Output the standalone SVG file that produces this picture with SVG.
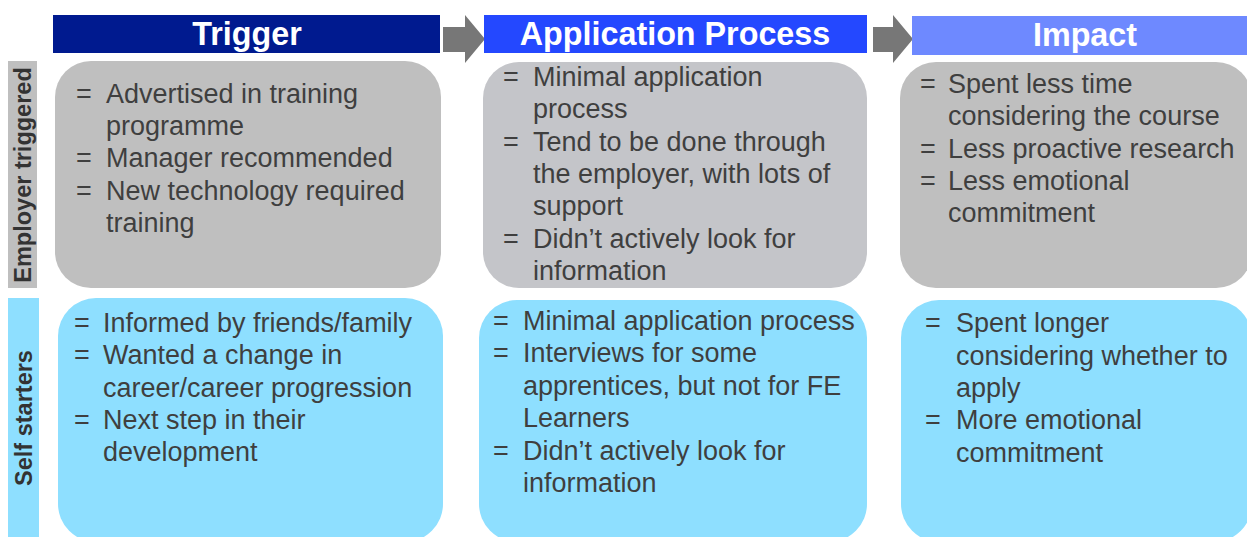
<svg xmlns="http://www.w3.org/2000/svg" width="1247" height="537" viewBox="0 0 1247 537">
<style>
.hdr{font-family:"Liberation Sans",Arial,sans-serif;font-weight:bold;font-size:32.3px;fill:#ffffff;text-anchor:middle}
.side{font-family:"Liberation Sans",Arial,sans-serif;font-weight:bold;font-size:23.5px;fill:#333333;text-anchor:middle}
.t{font-family:"Liberation Sans",Arial,sans-serif;font-size:27px;fill:#3f3f3f}
.gray{fill:#bfbfbf}
.gray2{fill:#c4c5c9}
.blue{fill:#8edfff}
.arrow{fill:#777777}
</style>
<rect width="1247" height="537" fill="#ffffff"/>
<g id="connectors">
<polygon class="arrow" points="443,27 465,27 465,15 485,39 465,63 465,52 443,52"/>
<polygon class="arrow" points="873,27 893,27 893,15 913,39 893,63 893,52 873,52"/>
</g>
<g id="header-trigger">
<rect x="53" y="15" width="387" height="38" fill="#001a8f"/>
<text class="hdr" x="247" y="45">Trigger</text>
</g>
<g id="header-application">
<rect x="484" y="15" width="383" height="38" fill="#2448ff"/>
<text class="hdr" x="675" y="45">Application Process</text>
</g>
<g id="header-impact">
<rect x="912" y="16" width="340" height="39" fill="#6e89ff"/>
<text class="hdr" x="1085" y="46">Impact</text>
</g>
<g id="label-employer">
<rect x="8" y="61" width="29" height="227" class="gray"/>
<text class="side" transform="translate(31,175) rotate(-90)">Employer triggered</text>
</g>
<g id="label-self">
<rect x="8" y="298" width="31" height="245" class="blue"/>
<text class="side" transform="translate(32,418) rotate(-90)">Self starters</text>
</g>
<g id="employer-trigger">
<rect x="55" y="61" width="386" height="227" rx="36" class="gray"/>
<text class="t" x="76" y="103">=</text>
<text class="t" x="106" y="103">Advertised in training</text>
<text class="t" x="106" y="135">programme</text>
<text class="t" x="76" y="167">=</text>
<text class="t" x="106" y="167">Manager recommended</text>
<text class="t" x="76" y="200">=</text>
<text class="t" x="106" y="200">New technology required</text>
<text class="t" x="106" y="232">training</text>
</g>
<g id="employer-application">
<rect x="483" y="62" width="384" height="226" rx="36" class="gray2"/>
<text class="t" x="503" y="86">=</text>
<text class="t" x="533" y="86">Minimal application</text>
<text class="t" x="533" y="118">process</text>
<text class="t" x="503" y="151">=</text>
<text class="t" x="533" y="151">Tend to be done through</text>
<text class="t" x="533" y="183">the employer, with lots of</text>
<text class="t" x="533" y="215">support</text>
<text class="t" x="503" y="248">=</text>
<text class="t" x="533" y="248">Didn’t actively look for</text>
<text class="t" x="533" y="280">information</text>
</g>
<g id="employer-impact">
<rect x="900" y="62" width="352" height="226" rx="36" class="gray"/>
<text class="t" x="920" y="93">=</text>
<text class="t" x="948" y="93">Spent less time</text>
<text class="t" x="948" y="125">considering the course</text>
<text class="t" x="920" y="158">=</text>
<text class="t" x="948" y="158">Less proactive research</text>
<text class="t" x="920" y="190">=</text>
<text class="t" x="948" y="190">Less emotional</text>
<text class="t" x="948" y="222">commitment</text>
</g>
<g id="self-trigger">
<rect x="58" y="298" width="385" height="244" rx="38" class="blue"/>
<text class="t" x="74" y="332">=</text>
<text class="t" x="103" y="332">Informed by friends/family</text>
<text class="t" x="74" y="364">=</text>
<text class="t" x="103" y="364">Wanted a change in</text>
<text class="t" x="103" y="397">career/career progression</text>
<text class="t" x="74" y="429">=</text>
<text class="t" x="103" y="429">Next step in their</text>
<text class="t" x="103" y="461">development</text>
</g>
<g id="self-application">
<rect x="479" y="300" width="388" height="242" rx="38" class="blue"/>
<text class="t" x="493" y="330">=</text>
<text class="t" x="523" y="330">Minimal application process</text>
<text class="t" x="493" y="362">=</text>
<text class="t" x="523" y="362">Interviews for some</text>
<text class="t" x="523" y="395">apprentices, but not for FE</text>
<text class="t" x="523" y="427">Learners</text>
<text class="t" x="493" y="460">=</text>
<text class="t" x="523" y="460">Didn’t actively look for</text>
<text class="t" x="523" y="492">information</text>
</g>
<g id="self-impact">
<rect x="901" y="300" width="351" height="242" rx="38" class="blue"/>
<text class="t" x="925" y="332">=</text>
<text class="t" x="956" y="332">Spent longer</text>
<text class="t" x="956" y="365">considering whether to</text>
<text class="t" x="956" y="397">apply</text>
<text class="t" x="925" y="429">=</text>
<text class="t" x="956" y="429">More emotional</text>
<text class="t" x="956" y="462">commitment</text>
</g>
</svg>
